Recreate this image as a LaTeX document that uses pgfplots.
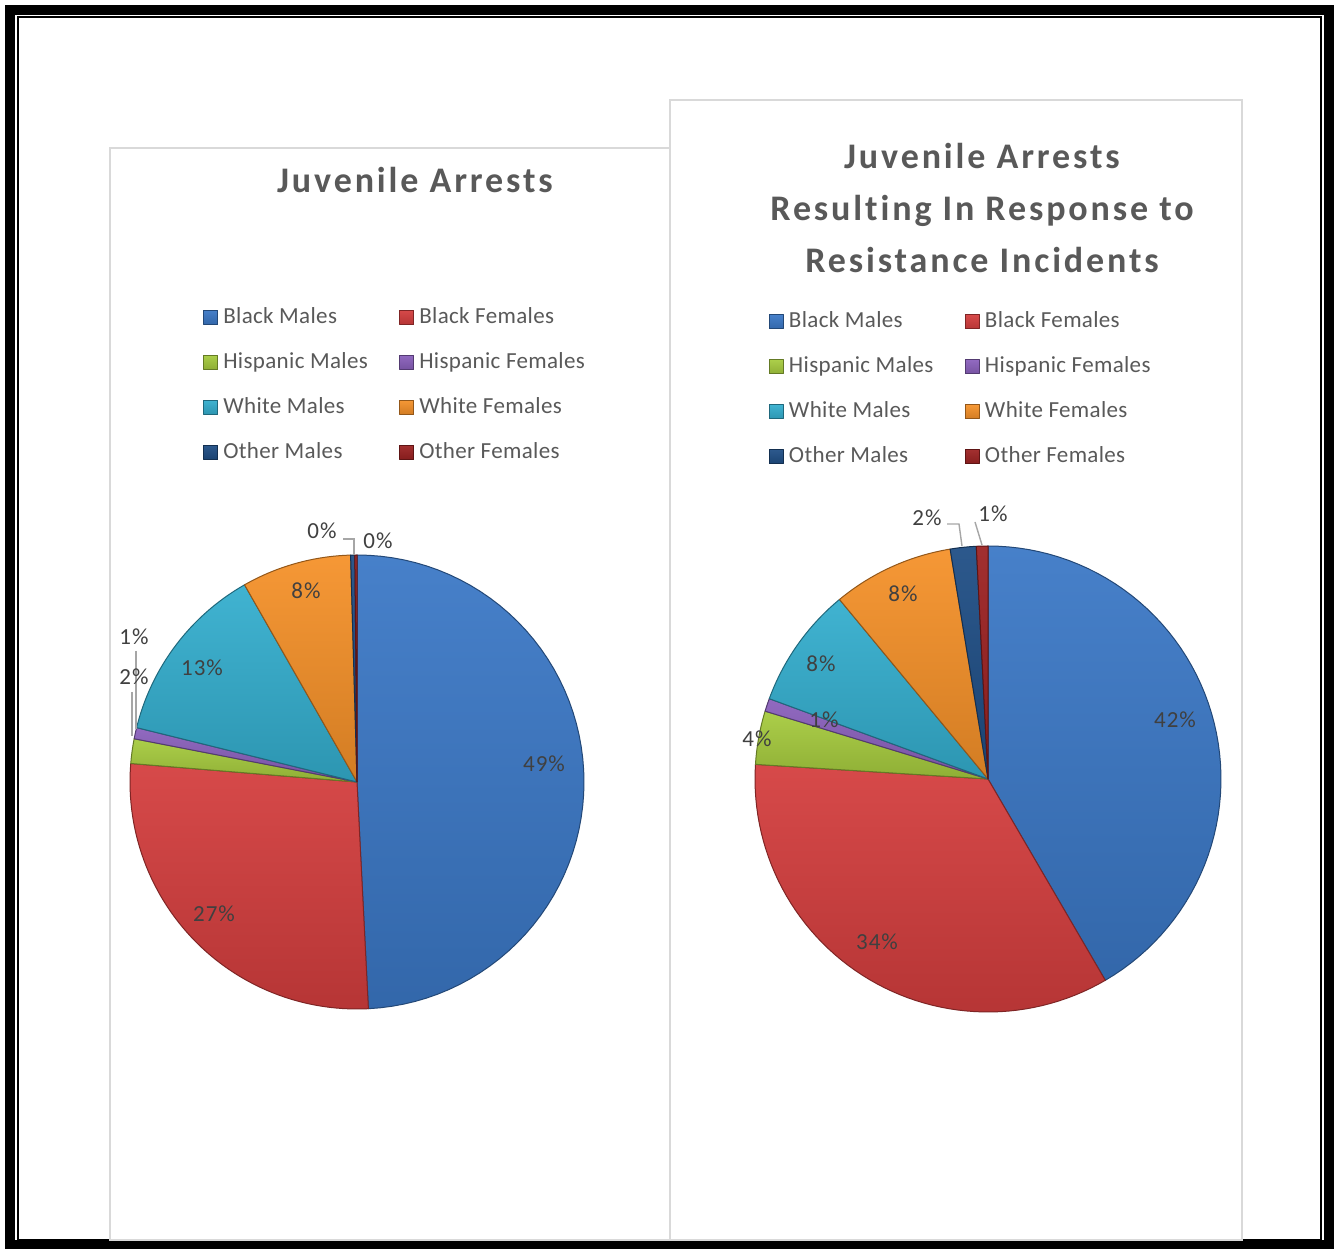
\documentclass[border=0pt]{standalone}
\usepackage{fontspec}
\setmainfont{Carlito}
\newfontfamily\titlefont{Carlito}[LetterSpace=8, Ligatures=CommonOff]
\newfontfamily\legfont{Carlito}[LetterSpace=1.5]
\newfontfamily\labfont{Carlito}[LetterSpace=4]
\usepackage{pgfplots}
\pgfplotsset{compat=1.18}
\definecolor{cBM}{HTML}{3B78C6}
\definecolor{cBF}{HTML}{D43E3E}
\definecolor{cHM}{HTML}{A6CB3E}
\definecolor{cHF}{HTML}{8A60BC}
\definecolor{cWM}{HTML}{34AECE}
\definecolor{cWF}{HTML}{F59129}
\definecolor{cOM}{HTML}{1F4E85}
\definecolor{cOF}{HTML}{9C2222}
\definecolor{cText}{HTML}{595959}
\definecolor{cLab}{HTML}{404040}
\definecolor{cPanel}{HTML}{D9D9D9}
\definecolor{cLead}{HTML}{A6A6A6}

\newcommand\cum{0}
% #1 = share in percent, #2 = colour
\newcommand\slice[2]{%
  \pgfmathsetmacro\pa{90-3.6*\cum}%
  \pgfmathsetmacro\cumnew{\cum+#1}%
  \global\let\cum\cumnew
  \pgfmathsetmacro\pb{90-3.6*\cum}%
  \edef\doslice{\noexpand\addplot[slice=#2, domain=\pb:\pa, samples=60]
     ({cos(x)},{sin(x)}) -- (axis cs:0,0) -- cycle;}%
  \doslice}
\newcommand\lc[1]{\makebox[85.5pt][l]{#1}}

\pgfplotsset{
  slice/.style={top color=#1!94!white, bottom color=#1!86!black,
    draw=#1!60!black, line width=0.5pt, line join=round},
  pie/.style={
    scale only axis, xmin=-1, xmax=1, ymin=-1, ymax=1,
    hide axis, clip=false, anchor=center,
    legend columns=2, legend cell align=left,
    legend image code/.code={\filldraw[##1] (0pt,-3.5pt) rectangle (7pt,3.5pt);},
    legend style={draw=none, fill=none, inner sep=0pt, outer sep=0pt,
      anchor=north west, column sep=2.5pt, row sep=10.5pt,
      font=\fontsize{11.5}{14}\legfont,
      nodes={inner sep=0pt, text height=9pt, text depth=3pt, text=cText}},
  },
}

\begin{document}
\begin{tikzpicture}[x=0.5pt,y=0.5pt]
\path[use as bounding box] (0,0) rectangle (1335,1249);
\fill[white] (0,0) rectangle (1335,1249);
% outer frame
\draw[black, line width=5pt] (10,4) rectangle (1329,1239);
\draw[black, line width=0.8pt] (18,9) rectangle (1321,1232);
% panels
\draw[cPanel, line width=1pt] (110,9) rectangle (670,1101);
\draw[cPanel, line width=1pt] (670,9) rectangle (1242,1149);

% titles
\node[anchor=base, text=cText, font=\fontsize{18}{22}\titlefont\bfseries] at (415,1056) {Juvenile Arrests};
\node[anchor=base, text=cText, font=\fontsize{18}{22}\titlefont\bfseries] at (982,1080) {Juvenile Arrests};
\node[anchor=base, text=cText, font=\fontsize{18}{22}\titlefont\bfseries] at (982,1028) {Resulting In Response to};
\node[anchor=base, text=cText, font=\fontsize{18}{22}\titlefont\bfseries] at (982,976) {Resistance Incidents};

% ---------- left pie: Juvenile Arrests ----------
\begin{axis}[pie, at={(178.5pt,233.5pt)}, width=227pt, height=227pt,
  legend style={at={(0.1615,1.5506)}}]
\renewcommand\cum{0}
\slice{49.2}{cBM}\addlegendentry{\lc{Black Males}}
\slice{27.1}{cBF}\addlegendentry{Black Females}
\slice{1.75}{cHM}\addlegendentry{\lc{Hispanic Males}}
\slice{0.8}{cHF}\addlegendentry{Hispanic Females}
\slice{12.9}{cWM}\addlegendentry{\lc{White Males}}
\slice{7.8}{cWF}\addlegendentry{White Females}
\slice{0.3}{cOM}\addlegendentry{\lc{Other Males}}
\slice{0.15}{cOF}\addlegendentry{Other Females}
\end{axis}

% ---------- right pie ----------
\begin{axis}[pie, at={(494pt,235pt)}, width=233pt, height=233pt,
  legend style={at={(0.030,1.5066)}}]
\renewcommand\cum{0}
\slice{41.6}{cBM}\addlegendentry{\lc{Black Males}}
\slice{34.4}{cBF}\addlegendentry{Black Females}
\slice{3.7}{cHM}\addlegendentry{\lc{Hispanic Males}}
\slice{0.9}{cHF}\addlegendentry{Hispanic Females}
\slice{8.4}{cWM}\addlegendentry{\lc{White Males}}
\slice{8.4}{cWF}\addlegendentry{White Females}
\slice{1.8}{cOM}\addlegendentry{\lc{Other Males}}
\slice{0.8}{cOF}\addlegendentry{Other Females}
\end{axis}

% leader lines
\draw[cLead, line width=0.7pt] (136,598) -- (136,520);
\draw[cLead, line width=0.7pt] (132,557) -- (132,513);
\draw[cLead, line width=0.7pt] (343,710) -- (354,710) -- (354,694);
\draw[cLead, line width=0.7pt] (947,725) -- (959,725) -- (962,703);
\draw[cLead, line width=0.7pt] (975,727) -- (982,704);

% data labels
\begin{scope}[every node/.style={inner sep=0pt, text=cLab, font=\fontsize{11.5}{14}\labfont}]
\node at (544,485) {49\%};
\node at (214,335) {27\%};
\node at (134,572) {2\%};
\node at (134,612) {1\%};
\node at (202,581) {13\%};
\node at (306,658) {8\%};
\node at (322,718) {0\%};
\node at (378,708) {0\%};
\node at (1175,529) {42\%};
\node at (877,307) {34\%};
\node at (757,510) {4\%};
\node at (824,529) {1\%};
\node at (821,585) {8\%};
\node at (903,655) {8\%};
\node at (927,731) {2\%};
\node at (993,735) {1\%};
\end{scope}
\end{tikzpicture}
\end{document}
